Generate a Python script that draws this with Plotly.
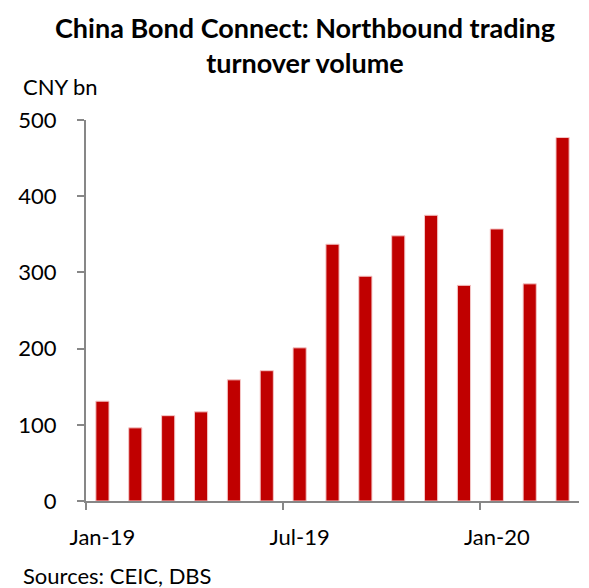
import plotly.graph_objects as go

months = ["Jan-19", "Feb-19", "Mar-19", "Apr-19", "May-19", "Jun-19", "Jul-19",
          "Aug-19", "Sep-19", "Oct-19", "Nov-19", "Dec-19", "Jan-20", "Feb-20", "Mar-20"]
turnover = [131, 96, 112, 117, 159, 171, 201, 337, 295, 348, 375, 283, 357, 285, 477]
y_ticks = [0, 100, 200, 300, 400, 500]
x_label_idx = [0, 6, 12]
x_tick_labels = ["Jan-19", "Jul-19", "Jan-20"]

FONT = "Lato"
x_pos = list(range(len(months)))

# page has an 8px body margin; figure sized to fit the window
W, H = 581, 580
l, r, t, b = 72, 10, 112, 87
pw, ph = W - l - r, H - t - b


def px_to_paper(px, py):
    # px, py are page coordinates
    fx, fy = px - 8, py - 8
    return (fx - l) / pw, (H - b - fy) / ph


fig = go.Figure()
fig.add_trace(go.Bar(
    x=x_pos, y=turnover, width=0.4,
    marker=dict(color="#C00000", line=dict(color="#F4C7C7", width=1)),
    hovertext=months, showlegend=False,
))
fig.add_trace(go.Scatter(x=[-0.5], y=[0], xaxis="x2", mode="markers",
                         marker=dict(opacity=0), showlegend=False, hoverinfo="skip"))

tx, ty = px_to_paper(302, 28)
cx, cy = px_to_paper(14, 87)
sx, sy = px_to_paper(14, 575)

fig.update_layout(
    width=W, height=H,
    margin=dict(l=l, r=r, t=t, b=b),
    paper_bgcolor="white", plot_bgcolor="white",
    font=dict(family=FONT, color="black"),
    xaxis=dict(range=[-0.5, 14.5], tickvals=x_label_idx, ticktext=x_tick_labels,
               ticks="", showgrid=False, zeroline=False, showline=True,
               linecolor="#878787", linewidth=2, tickfont=dict(size=22, family=FONT),
               ticklabelstandoff=16),
    xaxis2=dict(range=[-0.5, 14.5], overlaying="x", side="bottom",
                tickvals=[-0.5, 5.5, 11.5], ticktext=["", "", ""],
                ticks="outside", ticklen=8, tickwidth=2, tickcolor="#878787",
                showgrid=False, zeroline=False, showline=False),
    yaxis=dict(range=[0, 500], tickvals=y_ticks, ticks="outside", ticklen=7,
               tickwidth=2, tickcolor="#878787", showgrid=False, zeroline=False,
               showline=True, linecolor="#878787", linewidth=2,
               tickfont=dict(size=22, family=FONT), ticklabelstandoff=16),
    annotations=[
        dict(text="<b>China Bond Connect: Northbound trading</b><br><b>turnover volume</b>",
             x=tx, y=ty, xref="paper", yref="paper", xanchor="center", yanchor="middle",
             showarrow=False, font=dict(size=27, family=FONT), align="center",
             yshift=-17),
        dict(text="CNY bn", x=cx, y=cy, xref="paper", yref="paper", showarrow=False,
             font=dict(size=22, family=FONT), xanchor="left", yanchor="middle"),
        dict(text="Sources: CEIC, DBS", x=sx, y=sy, xref="paper", yref="paper",
             showarrow=False, font=dict(size=22, family=FONT),
             xanchor="left", yanchor="middle"),
    ],
)

fig.write_html("out.html")
